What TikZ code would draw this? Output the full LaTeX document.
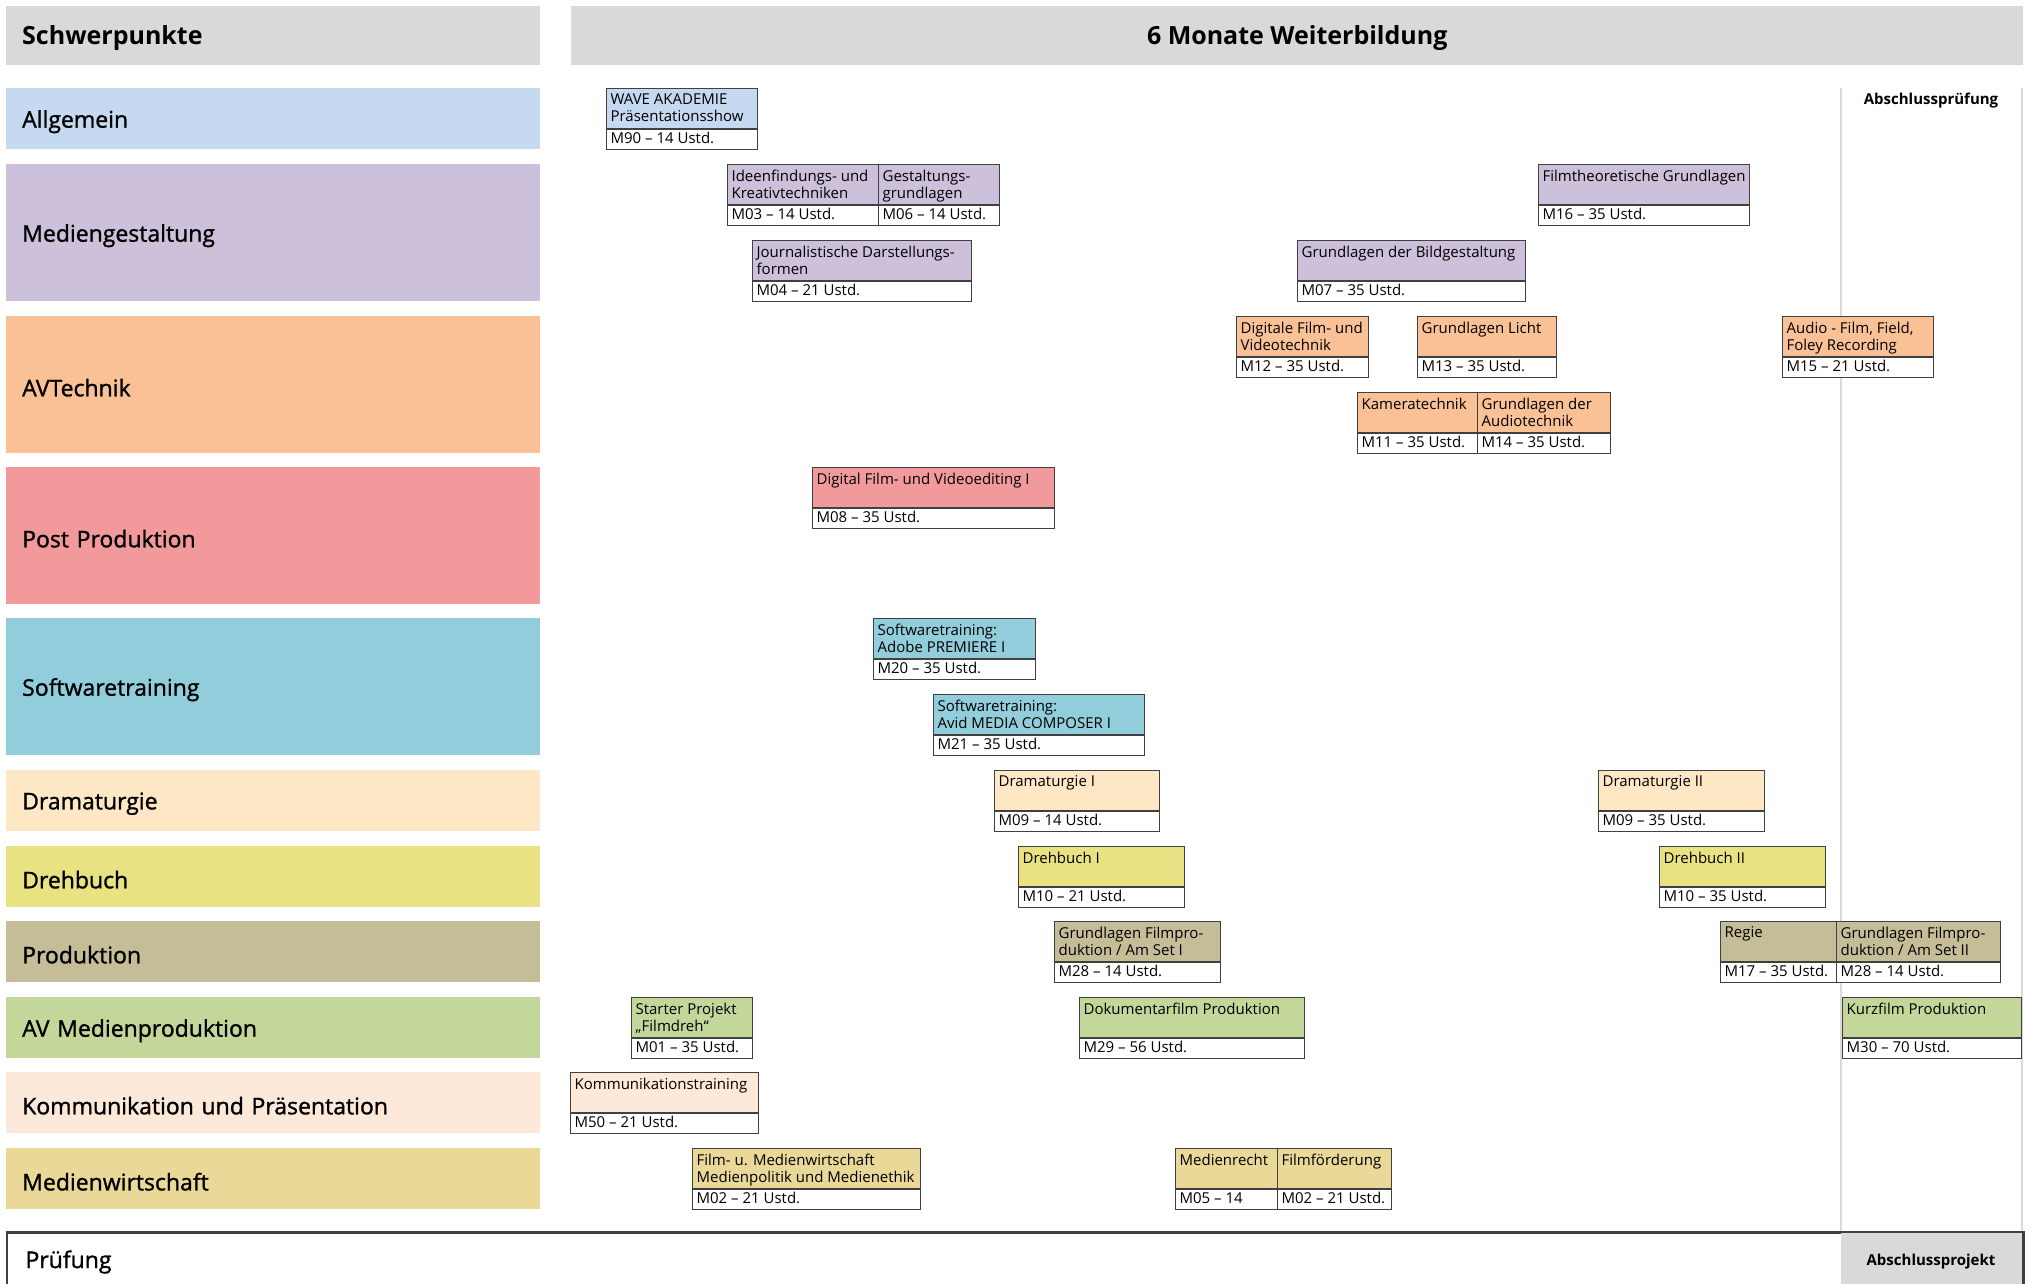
\documentclass[tikz,border=0pt]{standalone}
\usepackage{fontspec}
\setmainfont{Open Sans}
\newfontfamily\semifam[FakeBold=1.2]{Open Sans}
\definecolor{cHdr}{HTML}{D9D9D9}
\definecolor{cAll}{HTML}{C5D9F1}
\definecolor{cMed}{HTML}{CCC0DA}
\definecolor{cAV}{HTML}{FAC196}
\definecolor{cPost}{HTML}{F2999C}
\definecolor{cSoft}{HTML}{92CDDC}
\definecolor{cDram}{HTML}{FDE7C4}
\definecolor{cDreh}{HTML}{E8E283}
\definecolor{cProd}{HTML}{C4BD97}
\definecolor{cAVM}{HTML}{C4D79B}
\definecolor{cKom}{HTML}{FDE9D9}
\definecolor{cMW}{HTML}{E9D898}
\definecolor{cLine}{HTML}{404040}
\definecolor{cGrid}{HTML}{DADADA}
\newcommand{\modfont}{\fontsize{15}{17}\selectfont}
\newcommand{\lblfont}{\semifam\fontsize{23}{27}\selectfont}
\newcommand{\hdrfont}{\fontsize{25}{29}\selectfont\bfseries}
\tikzset{
  rowbox/.style={anchor=north west, inner xsep=16pt, inner ysep=0pt, minimum width=534pt, text width=502pt, align=left, font=\lblfont},
  hdrbox/.style={anchor=north west, fill=cHdr, inner ysep=0pt, minimum height=59pt, font=\hdrfont},
  modtop/.style={anchor=north west, draw=cLine, line width=1.2pt, inner xsep=4pt, inner ysep=1.5pt, minimum height=40pt, font=\modfont},
  modbot/.style={anchor=north west, draw=cLine, line width=1.2pt, fill=white, inner xsep=4pt, inner ysep=0pt, minimum height=20pt, font=\modfont},
  gridline/.style={draw=cGrid, line width=1.2pt},
  smallbold/.style={font=\fontsize{15}{17}\selectfont\bfseries},
}
\newcommand{\mkrow}[5]{%
  \node[rowbox, fill=#4, minimum height=#3] (#1) at (6,-#2) {\raisebox{-3pt}[\height][\depth]{#5}};}
\newcommand{\mkmod}[7]{%
  \pgfmathsetmacro\mw{#3-#2}%
  \pgfmathsetmacro\tw{#3-#2-8}%
  \node[modtop, fill=#5, minimum width=\mw pt] (#1t) at (#2,-#4) {\parbox[t][37pt][t]{\tw pt}{\vspace*{3.5pt}\raggedright #6}};
  \node[modbot, minimum width=\mw pt] (#1b) at (#1t.south west) {\parbox{\tw pt}{\raggedright\raisebox{1.5pt}[\height][\depth]{#7}}};}
\begin{document}
\begin{tikzpicture}[x=1pt,y=1pt]
\clip (0,0) rectangle (2031,-1283);
\fill[white] (0,0) rectangle (2031,-1283);
% headers
\node[hdrbox, minimum width=534pt, text width=502pt, inner xsep=16pt, align=left] (hs) at (6,-6) {\raisebox{-2pt}[\height][\depth]{Schwerpunkte}};
\node[hdrbox, minimum width=1452pt] (hm) at (571,-6) {\raisebox{-2pt}[\height][\depth]{6 Monate Weiterbildung}};
% row labels
\mkrow{rAll}{88}{61}{cAll}{Allgemein}
\mkrow{rMed}{164}{137}{cMed}{Mediengestaltung}
\mkrow{rAV}{316}{137}{cAV}{AVTechnik}
\mkrow{rPost}{467}{137}{cPost}{Post Produktion}
\mkrow{rSoft}{618}{137}{cSoft}{Softwaretraining}
\mkrow{rDram}{770}{61}{cDram}{Dramaturgie}
\mkrow{rDreh}{846}{61}{cDreh}{Drehbuch}
\mkrow{rProd}{921}{61}{cProd}{Produktion}
\mkrow{rAVM}{997}{61}{cAVM}{AV Medienproduktion}
\mkrow{rKom}{1072}{61}{cKom}{Kommunikation und Präsentation}
\mkrow{rMW}{1148}{61}{cMW}{Medienwirtschaft}
% exam column lines
\coordinate (vt) at (1841,-88);
\coordinate (vb) at (1841,-1232);
\coordinate (rt) at (2022,-88);
\coordinate (rb) at (2022,-1232);
\draw[gridline] (vt) -- (vb);
\draw[gridline] (rt) -- (rb);
\node[smallbold] (apr) at (1931,-101) {Abschlussprüfung};
% Pruefung
\node[anchor=north west, draw=cLine, line width=2pt, fill=white, minimum width=2016pt, minimum height=90pt] (pr) at (6,-1232) {};
\node[anchor=north west, fill=cHdr, inner sep=0pt, minimum width=181pt, minimum height=60pt] (apj) at (1841,-1233) {};
\draw[cLine, line width=2pt] (pr.north west) -- (pr.north east) -- (pr.south east);
\node[anchor=west, font=\lblfont] (prl) at (22,-1262) {Prüfung};
\node[smallbold] (apjt) at (1931,-1262) {Abschlussprojekt};
% modules
\mkmod{m90}{606}{757}{88}{cAll}{WAVE AKADEMIE\\Präsentationsshow}{M90 – 14 Ustd.}
\mkmod{m03}{727}{878}{164}{cMed}{Ideenfindungs- und\\Kreativtechniken}{M03 – 14 Ustd.}
\mkmod{m06}{878}{999}{164}{cMed}{Gestaltungs-\\grundlagen}{M06 – 14 Ustd.}
\mkmod{m04}{752}{971}{240}{cMed}{Journalistische Darstellungs-\\formen}{M04 – 21 Ustd.}
\mkmod{m16}{1538}{1749}{164}{cMed}{Filmtheoretische Grundlagen}{M16 – 35 Ustd.}
\mkmod{m07}{1297}{1525}{240}{cMed}{Grundlagen der Bildgestaltung}{M07 – 35 Ustd.}
\mkmod{m12}{1236}{1368}{316}{cAV}{Digitale Film- und\\Videotechnik}{M12 – 35 Ustd.}
\mkmod{m13}{1417}{1556}{316}{cAV}{Grundlagen Licht}{M13 – 35 Ustd.}
\mkmod{m15}{1782}{1933}{316}{cAV}{Audio - Film, Field,\\Foley Recording}{M15 – 21 Ustd.}
\mkmod{m11}{1357}{1477}{392}{cAV}{Kameratechnik}{M11 – 35 Ustd.}
\mkmod{m14}{1477}{1610}{392}{cAV}{Grundlagen der\\Audiotechnik}{M14 – 35 Ustd.}
\mkmod{m08}{812}{1054}{467}{cPost}{Digital Film- und Videoediting I}{M08 – 35 Ustd.}
\mkmod{m20}{873}{1035}{618}{cSoft}{Softwaretraining:\\Adobe PREMIERE I}{M20 – 35 Ustd.}
\mkmod{m21}{933}{1144}{694}{cSoft}{Softwaretraining:\\Avid MEDIA COMPOSER I}{M21 – 35 Ustd.}
\mkmod{m09a}{994}{1159}{770}{cDram}{Dramaturgie I}{M09 – 14 Ustd.}
\mkmod{m09b}{1598}{1764}{770}{cDram}{Dramaturgie II}{M09 – 35 Ustd.}
\mkmod{m10a}{1018}{1184}{846}{cDreh}{Drehbuch I}{M10 – 21 Ustd.}
\mkmod{m10b}{1659}{1825}{846}{cDreh}{Drehbuch II}{M10 – 35 Ustd.}
\mkmod{m28a}{1054}{1220}{921}{cProd}{Grundlagen Filmpro-\\duktion / Am Set I}{M28 – 14 Ustd.}
\mkmod{m17}{1720}{1836}{921}{cProd}{Regie}{M17 – 35 Ustd.}
\mkmod{m28b}{1836}{2000}{921}{cProd}{Grundlagen Filmpro-\\duktion / Am Set II}{M28 – 14 Ustd.}
\mkmod{m01}{631}{752}{997}{cAVM}{Starter Projekt\\„Filmdreh“}{M01 – 35 Ustd.}
\mkmod{m29}{1079}{1304}{997}{cAVM}{Dokumentarfilm Produktion}{M29 – 56 Ustd.}
\mkmod{m30}{1842}{2021}{997}{cAVM}{Kurzfilm Produktion}{M30 – 70 Ustd.}
\mkmod{m50}{570}{758}{1072}{cKom}{Kommunikationstraining}{M50 – 21 Ustd.}
\mkmod{m02a}{692}{920}{1148}{cMW}{Film- u. Medienwirtschaft\\Medienpolitik und Medienethik}{M02 – 21 Ustd.}
\mkmod{m05}{1175}{1277}{1148}{cMW}{Medienrecht}{M05 – 14}
\mkmod{m02b}{1277}{1391}{1148}{cMW}{Filmförderung}{M02 – 21 Ustd.}
\end{tikzpicture}
\end{document}
